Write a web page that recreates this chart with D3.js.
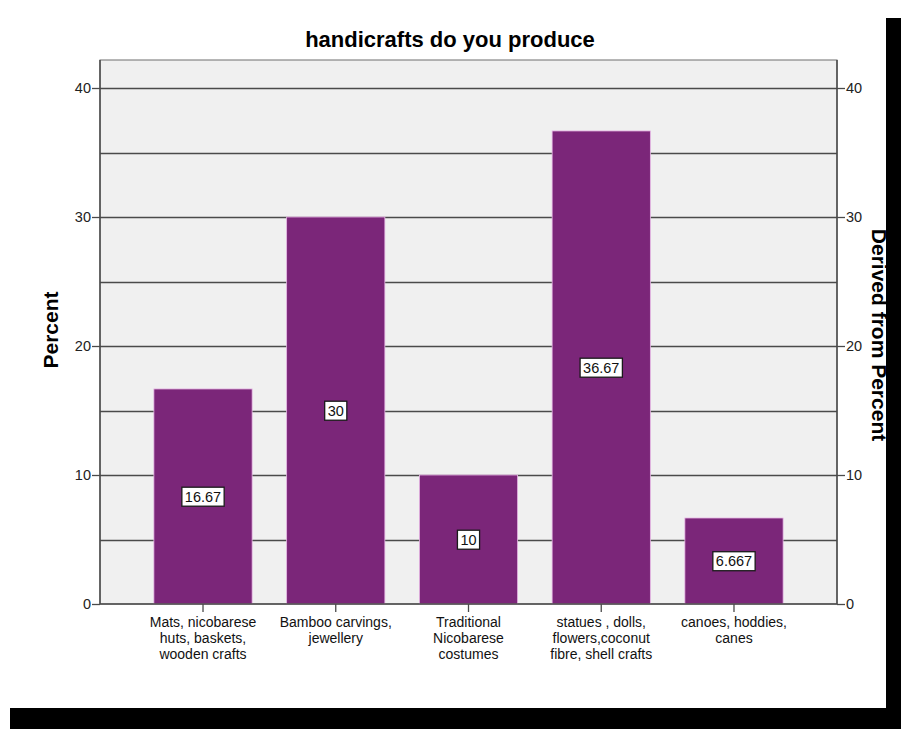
<!DOCTYPE html>
<html>
<head>
<meta charset="utf-8">
<script src="https://cdn.jsdelivr.net/npm/d3@7"></script>
<style>
  html, body { margin: 0; padding: 0; background: #fff; }
  svg { display: block; font-family: "Liberation Sans", Arial, sans-serif; }
</style>
</head>
<body>
<svg id="chart" width="901" height="729"></svg>
<script>
// Handicraft categories (each label split into its printed lines)
const categories = [
  ["Mats, nicobarese", "huts, baskets,", "wooden crafts"],
  ["Bamboo carvings,", "jewellery"],
  ["Traditional", "Nicobarese", "costumes"],
  ["statues , dolls,", "flowers,coconut", "fibre, shell crafts"],
  ["canoes, hoddies,", "canes"]
];
const percents = [16.67, 30, 10, 36.67, 6.667];
const valueLabels = ["16.67", "30", "10", "36.67", "6.667"];
const yTicks = [0, 10, 20, 30, 40];
const gridValues = [5, 10, 15, 20, 25, 30, 35, 40];

const svg = d3.select("#chart");
const W = 901, H = 729;
const plot = { left: 100, right: 837, top: 60, bottom: 604 };

// Black frame strips on right and bottom edges
svg.append("rect").attr("x", 886).attr("y", 18).attr("width", W - 886).attr("height", H - 18).attr("fill", "#000");
svg.append("rect").attr("x", 10).attr("y", 708).attr("width", W - 10).attr("height", H - 708).attr("fill", "#000");

const y = d3.scaleLinear().domain([0, 40]).range([plot.bottom, 88]);
const x = d3.scaleBand()
  .domain(d3.range(categories.length))
  .range([plot.left, plot.right])
  .paddingInner(0.26)
  .paddingOuter(0.406);

// Plot background
svg.append("rect")
  .attr("x", plot.left).attr("y", plot.top)
  .attr("width", plot.right - plot.left).attr("height", plot.bottom - plot.top)
  .attr("fill", "#f0f0f0").attr("stroke", "#6e6e6e").attr("stroke-width", 1);

// Horizontal grid lines
svg.append("g").selectAll("line").data(gridValues).join("line")
  .attr("x1", plot.left).attr("x2", plot.right)
  .attr("y1", d => Math.round(y(d)) + 0.5).attr("y2", d => Math.round(y(d)) + 0.5)
  .attr("stroke", "#4a4a4a").attr("stroke-width", 1.6);

// Bars
svg.append("g").selectAll("rect").data(percents).join("rect")
  .attr("x", (d, i) => x(i)).attr("width", x.bandwidth())
  .attr("y", d => y(d)).attr("height", d => plot.bottom - y(d))
  .attr("fill", "#7b2679").attr("stroke", "#e8b8e6").attr("stroke-width", 0.8);

// Value labels in boxes at bar midpoints
const lbl = svg.append("g").selectAll("g").data(percents).join("g")
  .attr("transform", (d, i) => `translate(${x(i) + x.bandwidth() / 2},${y(d / 2)})`);
lbl.append("text")
  .attr("text-anchor", "middle").attr("dy", "0.36em")
  .attr("font-size", 14.5).attr("fill", "#111")
  .text((d, i) => valueLabels[i]);
lbl.each(function () {
  const g = d3.select(this);
  const bb = g.select("text").node().getBBox();
  g.insert("rect", "text")
    .attr("x", bb.x - 3).attr("y", bb.y - 1.5)
    .attr("width", bb.width + 6).attr("height", bb.height + 3)
    .attr("fill", "#fff").attr("stroke", "#1a1a1a").attr("stroke-width", 1.3);
});

// Left axis
const leftAxis = svg.append("g").attr("transform", `translate(${plot.left},0)`)
  .call(d3.axisLeft(y).tickValues(yTicks).tickSize(8).tickPadding(1));
// Right axis
const rightAxis = svg.append("g").attr("transform", `translate(${plot.right},0)`)
  .call(d3.axisRight(y).tickValues(yTicks).tickSize(8).tickPadding(1));
[leftAxis, rightAxis].forEach(a => {
  a.select(".domain").attr("d", `M0,${plot.top}V${plot.bottom}`).attr("stroke", "#4a4a4a").attr("stroke-width", 1.5);
  a.selectAll(".tick line").attr("stroke", "#4a4a4a").attr("stroke-width", 1.3);
  a.selectAll(".tick text").attr("font-size", 14.5).attr("fill", "#222").attr("font-family", "Liberation Sans, Arial, sans-serif");
});

// Bottom axis
const bottomAxis = svg.append("g").attr("transform", `translate(0,${plot.bottom})`)
  .call(d3.axisBottom(x).tickSize(8).tickFormat(""));
bottomAxis.select(".domain").attr("d", `M${plot.left},0H${plot.right}`).attr("stroke", "#4a4a4a").attr("stroke-width", 1.5);
bottomAxis.selectAll(".tick line").attr("stroke", "#4a4a4a").attr("stroke-width", 1.3);

// Category labels, one text element per printed line
const catGroups = svg.append("g").selectAll("g").data(categories).join("g")
  .attr("transform", (d, i) => `translate(${x(i) + x.bandwidth() / 2},0)`);
catGroups.selectAll("text").data(d => d).join("text")
  .attr("text-anchor", "middle").attr("font-size", 14).attr("fill", "#111")
  .attr("y", (s, j) => 627 + j * 16.2)
  .text(s => s);

// Title
svg.append("text").attr("x", 450).attr("y", 47)
  .attr("text-anchor", "middle").attr("font-size", 22).attr("font-weight", "bold")
  .text("handicrafts do you produce");

// Axis titles
svg.append("text").attr("transform", "translate(58,330) rotate(-90)")
  .attr("text-anchor", "middle").attr("font-size", 21).attr("font-weight", "bold")
  .text("Percent");
svg.append("text").attr("transform", "translate(872,335) rotate(90)")
  .attr("text-anchor", "middle").attr("font-size", 21).attr("font-weight", "bold")
  .text("Derived from Percent");
</script>
</body>
</html>
